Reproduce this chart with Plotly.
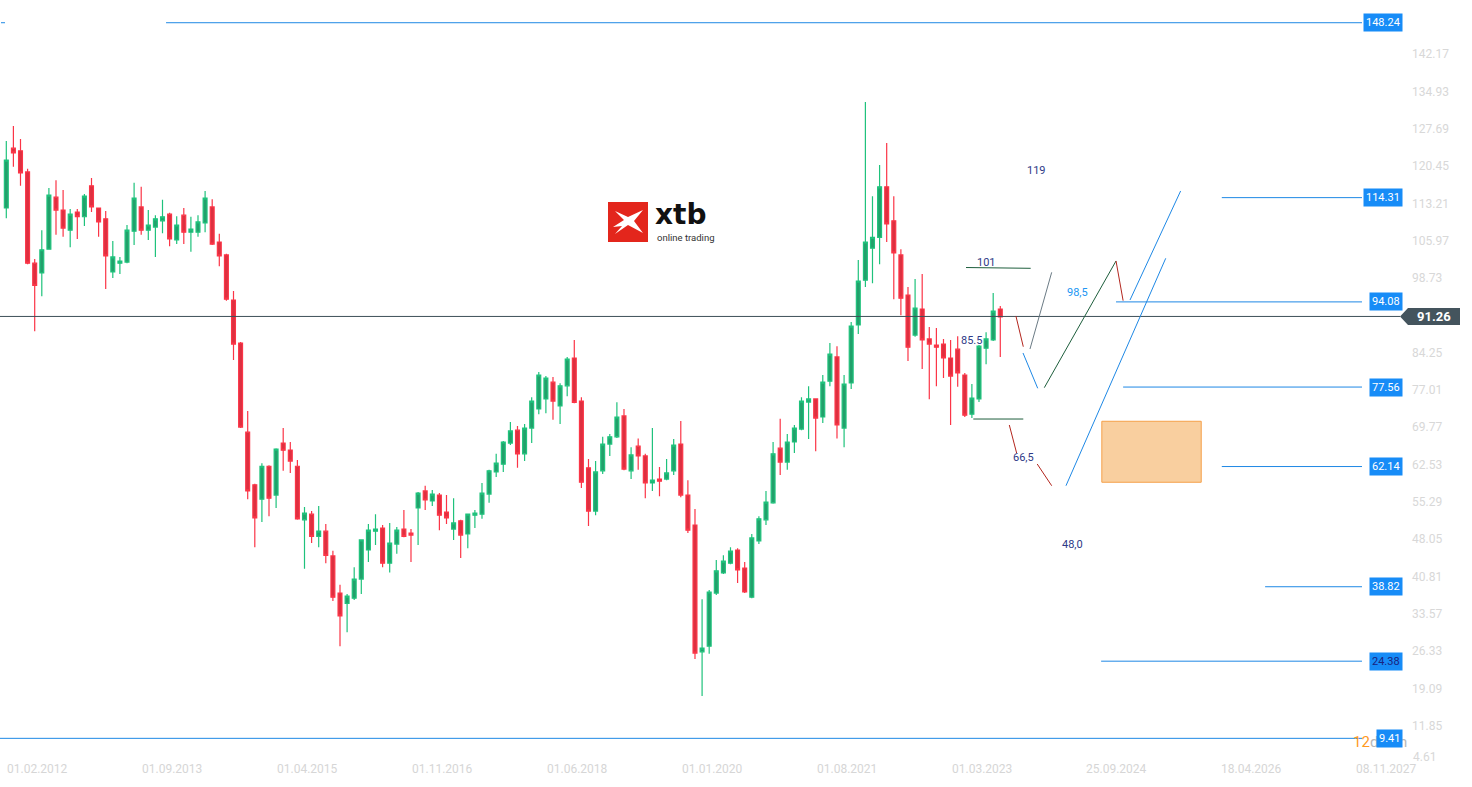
import plotly.graph_objects as go
import pandas as pd

# ---------------- data ----------------
months = pd.date_range("2012-02-01", periods=141, freq="MS").strftime("%d.%m.%Y").tolist()

opens = [112.3, 123.9, 123.4, 119.3, 101.6, 99.7, 104.3, 114.4, 111.9, 108.0,
         111.5, 110.6, 116.6, 112.3, 110.2, 99.9, 101.6, 101.8, 107.8, 112.5,
         108.0, 108.6, 109.8, 111.1, 106.1, 110.9, 107.6, 107.6, 109.4, 112.5,
         105.7, 103.2, 94.45, 86.1, 68.8, 58.6, 55.8, 62.2, 56.6, 66.7,
         65.35, 62.2, 51.8, 52.9, 48.6, 49.6, 44.8, 37.6, 35.6, 36.6,
         40.3, 45.95, 49.6, 50.2, 43.4, 47.1, 50.0, 49.25, 54.1, 57.4,
         55.45, 56.6, 53.3, 50.0, 51.6, 49.05, 52.7, 52.9, 56.8, 61.1,
         62.6, 66.7, 69.2, 64.6, 69.6, 73.3, 75.25, 78.5, 73.9, 77.8,
         83.2, 74.85, 61.9, 53.5, 61.3, 66.5, 67.9, 71.95, 61.3, 66.1,
         64.2, 58.95, 59.7, 59.7, 61.3, 66.5, 56.6, 50.8, 26.2, 27.3,
         37.6, 41.5, 43.4, 45.95, 42.45, 36.8, 47.7, 51.8, 55.1, 65.7,
         63.0, 66.9, 69.4, 74.65, 75.25, 71.75, 78.7, 83.4, 69.6, 78.35,
         89.6, 98.3, 104.5, 106.6, 116.4, 109.8, 103.2, 95.4, 87.65, 92.7,
         86.9, 85.7, 85.9, 83.2, 84.9, 79.9, 72.3, 75.25, 85.1, 86.7,
         92.7]
highs = [125.3, 128.2, 125.7, 119.9, 102.4, 108.0, 116.2, 117.7, 115.8, 112.1,
         112.1, 115.0, 118.1, 112.3, 111.7, 105.9, 102.8, 109.0, 117.2, 116.4,
         111.9, 110.9, 113.9, 111.4, 110.7, 112.3, 110.6, 110.9, 115.6, 114.0,
         107.3, 103.4, 96.2, 86.3, 72.9, 58.8, 62.8, 62.4, 65.7, 69.6,
         66.9, 63.4, 54.3, 53.5, 54.5, 51.0, 45.8, 39.2, 37.4, 42.6,
         48.0, 51.0, 52.9, 50.8, 51.2, 50.4, 53.7, 50.0, 57.2, 58.4,
         57.6, 57.0, 56.6, 56.0, 51.8, 53.0, 53.7, 58.95, 61.5, 64.6,
         67.1, 70.8, 70.0, 70.4, 75.6, 80.5, 79.7, 79.5, 78.3, 83.4,
         86.7, 75.6, 63.6, 63.2, 67.9, 68.45, 74.6, 73.3, 65.9, 67.6,
         64.6, 69.6, 62.05, 63.6, 67.5, 70.97, 59.5, 53.9, 36.4, 38.2,
         44.0, 44.95, 46.5, 46.3, 43.6, 49.05, 52.5, 57.4, 66.9, 71.4,
         68.45, 70.2, 75.6, 77.7, 75.4, 79.9, 86.1, 85.5, 79.9, 90.2,
         102.2, 132.85, 114.6, 120.65, 124.9, 114.6, 104.3, 96.97, 98.5, 99.5,
         89.2, 89.0, 86.9, 86.7, 87.4, 80.3, 78.15, 85.7, 88.2, 95.8,
         93.3]
lows = [110.3, 120.3, 116.6, 101.4, 88.4, 95.2, 104.2, 107.1, 106.7, 104.7,
        106.3, 108.8, 111.5, 106.7, 96.6, 98.7, 99.5, 101.6, 105.1, 107.1,
        106.1, 102.8, 107.4, 104.9, 105.3, 105.3, 103.8, 106.7, 107.6, 105.1,
        101.0, 94.3, 82.8, 69.6, 55.8, 46.5, 51.4, 52.5, 54.1, 61.3,
        60.9, 51.8, 42.3, 47.3, 46.5, 43.4, 36.05, 27.3, 30.0, 36.25,
        37.4, 43.6, 46.9, 42.6, 41.6, 45.2, 48.4, 43.6, 46.9, 53.7,
        54.5, 49.8, 51.0, 47.9, 44.4, 46.3, 50.2, 52.0, 55.1, 60.1,
        61.1, 66.3, 61.9, 63.2, 66.7, 72.3, 72.5, 71.2, 70.4, 75.8,
        74.4, 57.98, 50.6, 52.7, 60.7, 64.2, 67.7, 61.4, 59.7, 61.5,
        56.0, 57.4, 56.4, 59.5, 60.5, 56.2, 49.25, 24.8, 17.6, 25.8,
        37.2, 41.3, 43.2, 39.55, 37.6, 36.6, 47.1, 50.8, 54.9, 60.5,
        61.5, 64.75, 69.2, 67.5, 65.1, 70.6, 77.7, 67.6, 65.9, 77.2,
        87.85, 96.97, 97.7, 101.4, 105.7, 94.6, 91.5, 82.6, 87.3, 81.05,
        75.2, 77.7, 79.3, 70.2, 77.6, 71.75, 71.55, 74.65, 82.0, 86.5,
        83.4]
closes = [121.6, 123.0, 119.1, 101.6, 97.3, 104.2, 114.8, 111.9, 108.4, 111.1,
          110.6, 114.6, 112.5, 109.6, 103.0, 102.8, 102.0, 108.0, 114.2, 108.0,
          109.0, 110.2, 110.6, 106.3, 109.0, 107.6, 108.2, 109.6, 114.2, 105.3,
          103.0, 94.6, 85.9, 69.8, 57.4, 52.2, 62.2, 56.0, 65.5, 65.3,
          63.2, 52.0, 53.1, 48.6, 49.6, 44.9, 36.8, 33.15, 37.0, 40.3,
          47.9, 49.8, 50.0, 43.4, 47.3, 49.8, 48.6, 48.85, 57.0, 55.65,
          56.8, 52.7, 52.2, 51.2, 48.85, 52.9, 53.1, 57.0, 61.3, 62.8,
          66.9, 69.05, 64.6, 69.6, 74.85, 79.9, 79.3, 74.85, 77.8, 83.0,
          74.6, 59.1, 53.5, 61.1, 66.5, 67.9, 71.75, 61.65, 64.4, 64.2,
          58.95, 59.5, 59.3, 60.9, 66.3, 56.6, 49.8, 25.95, 26.9, 37.8,
          41.9, 43.8, 45.75, 42.1, 37.8, 48.3, 52.0, 55.25, 64.6, 63.0,
          66.9, 69.6, 74.85, 75.25, 71.55, 78.5, 83.95, 70.2, 78.15, 89.4,
          98.1, 105.7, 106.6, 116.4, 109.2, 103.6, 94.8, 85.3, 92.9, 86.7,
          85.9, 85.3, 83.2, 79.7, 80.3, 72.1, 75.4, 85.5, 86.9, 92.3,
          91.15]

x_tick_labels = ["01.02.2012", "01.09.2013", "01.04.2015", "01.11.2016", "01.06.2018",
                 "01.01.2020", "01.08.2021", "01.03.2023", "25.09.2024", "18.04.2026",
                 "08.11.2027"]
months_per_label = 19

y_tick_values = [142.17, 134.93, 127.69, 120.45, 113.21, 105.97, 98.73, 84.25, 77.01,
                 69.77, 62.53, 55.29, 48.05, 40.81, 33.57, 26.33, 19.09, 11.85]
y_bottom_tick = 4.61

current_price = 91.26

# horizontal price levels (value, month index where the line starts)
level_values = [148.24, 114.31, 94.08, 77.56, 62.14, 38.82, 24.38, 9.41]
level_starts = [22.5, 171.2, 156.3, 157.3, 171.2, 177.3, 154.2, -0.9]

# scenario drawings: (month index, price) pairs
scenario_segments = [
    ([142.2, 143.24], [91.35, 85.39], "#b3261e"),
    ([144.18, 147.24], [84.94, 99.82], "#6b7b85"),
    ([143.2, 145.27], [84.17, 77.32], "#1e88e5"),
    ([146.2, 156.3], [77.44, 102.02], "#1d5e3c"),
    ([156.3, 157.3], [102.02, 94.32], "#b3261e"),
    ([158.27, 165.4], [94.45, 115.6], "#1e88e5"),
    ([149.25, 163.3], [58.42, 102.54], "#1e88e5"),
    ([141.27, 142.31], [70.2, 64.71], "#b3261e"),
    ([145.2, 147.24], [62.63, 58.42], "#b3261e"),
    ([135.17, 144.28], [100.75, 100.6], "#1d5e3c"),
    ([136.2, 143.24], [71.36, 71.36], "#1d5e3c"),
]
zone_x = [154.3, 168.3]
zone_y = [59.09, 70.92]

target_texts = ["119", "101", "98,5", "85.5", "66,5", "48,0"]
target_x = [145.16, 138.0, 150.94, 136.0, 143.2, 150.1]
target_y = [119.67, 101.8, 95.81, 86.69, 63.99, 47.11]
target_colors = ["#2e3a87", "#2e3a87", "#2196f3", "#2e3a87", "#2e3a87", "#2e3a87"]

# ---------------- layout constants ----------------
W, H = 1472, 787
PLOT_W = 1403
X_RANGE = [-0.887, 196.72]
Y_RANGE = [-0.03, 152.65]
BLUE = "#1e88e5"
BOX_BLUE = "#178cf7"
TICK_GRAY = "#d8d8d8"
x_pos = list(range(len(months)))


def px(xp):
    return xp / PLOT_W


def py(yp):
    return 1 - yp / H


fig = go.Figure()
fig.add_trace(go.Candlestick(
    x=x_pos, open=opens, high=highs, low=lows, close=closes,
    increasing=dict(line=dict(color="#1fc27c", width=1.2), fillcolor="#22a06b"),
    decreasing=dict(line=dict(color="#fb3547", width=1.2), fillcolor="#dd3040"),
    whiskerwidth=0, hoverinfo="skip", showlegend=False,
))

shapes = []
annotations = []

# price levels
end_idx = (1362 - 6.3) / 7.1
for v, s in zip(level_values, level_starts):
    shapes.append(dict(type="line", xref="x", yref="y", x0=s, x1=end_idx, y0=v, y1=v,
                       line=dict(color=BLUE, width=1)))
shapes.append(dict(type="line", xref="paper", yref="y", x0=px(1), x1=px(5),
                   y0=level_values[0], y1=level_values[0], line=dict(color=BLUE, width=1)))

# current price line
shapes.append(dict(type="line", xref="paper", yref="y", x0=0, x1=px(1400),
                   y0=current_price, y1=current_price, line=dict(color="#3d4f58", width=1)))

# scenario lines
for xs, ys, col in scenario_segments:
    shapes.append(dict(type="line", xref="x", yref="y", x0=xs[0], x1=xs[1], y0=ys[0], y1=ys[1],
                       line=dict(color=col, width=1)))

# orange zone
shapes.append(dict(type="rect", xref="x", yref="y", x0=zone_x[0], x1=zone_x[1],
                   y0=zone_y[0], y1=zone_y[1], fillcolor="#f9cf9f",
                   line=dict(color="#f5a04a", width=1), layer="above"))

# current price tag (arrow box)
dy = 1.65
path = (f"M {px(1400)},{current_price} L {px(1408)},{current_price + dy} "
        f"L {px(1460)},{current_price + dy} L {px(1460)},{current_price - dy} "
        f"L {px(1408)},{current_price - dy} Z")
shapes.append(dict(type="path", xref="paper", yref="y", path=path,
                   fillcolor="#44545d", line=dict(width=0), layer="above"))

# logo
shapes.append(dict(type="rect", xref="paper", yref="paper", x0=px(608), x1=px(648),
                   y0=py(242), y1=py(202), fillcolor="#e3261c", line=dict(width=0), layer="above"))
pts = [(613, 227), (624, 220), (615, 211), (628, 217), (643, 210), (634, 221),
       (643, 233), (628, 225), (615, 234), (622, 226)]
lp = "M " + " L ".join(f"{px(a)},{py(b)}" for a, b in pts) + " Z"
shapes.append(dict(type="path", xref="paper", yref="paper", path=lp,
                   fillcolor="white", line=dict(width=0), layer="above"))
annotations.append(dict(text="<b>xtb</b>", xref="paper", yref="paper", x=px(653), y=py(214),
                        xanchor="left", yanchor="middle", showarrow=False,
                        font=dict(family="DejaVu Sans", size=28, color="#111111")))
annotations.append(dict(text="online trading", xref="paper", yref="paper", x=px(655), y=py(237),
                        xanchor="left", yanchor="middle", showarrow=False,
                        font=dict(family="Roboto", size=9.5, color="#333333")))

# scenario texts
for t, xx, yy, c in zip(target_texts, target_x, target_y, target_colors):
    annotations.append(dict(text=t, x=xx, y=yy, xref="x", yref="y", showarrow=False,
                            xanchor="center", yanchor="middle",
                            font=dict(family="Roboto", size=11, color=c)))

# x tick labels
for i, lab in enumerate(x_tick_labels):
    annotations.append(dict(text=lab, x=i * months_per_label, xref="x", y=py(769), yref="paper",
                            xanchor="left", yanchor="middle", xshift=-1, showarrow=False,
                            font=dict(family="Roboto", size=12, color="#d6d6d6")))

# bottom price tick, lifted to stay clear of the date labels
annotations.append(dict(text=f"{y_bottom_tick:.2f}", xref="paper", yref="y", x=px(1411),
                        y=y_bottom_tick, yshift=6, xanchor="left", yanchor="middle",
                        showarrow=False, font=dict(family="Roboto", size=12, color=TICK_GRAY)))

# countdown text (partly hidden by last box)
annotations.append(dict(
    text="<span style='color:#ff9a1f'>12</span><span style='color:#b8b8b8'>d</span> "
         "<span style='color:#ff9a1f'>06</span><span style='color:#b8b8b8'>h</span>",
    xref="paper", yref="paper", x=px(1351), y=py(742), xanchor="left", yanchor="middle",
    showarrow=False, font=dict(family="Roboto", size=15)))

# level tags
for v in level_values:
    tcol = "#1a237e" if v == 24.38 else "white"
    annotations.append(dict(text=f"{v:.2f}", xref="paper", yref="y", x=px(1403), y=v,
                            xanchor="right", yanchor="middle", showarrow=False,
                            bgcolor=BOX_BLUE, borderpad=2,
                            font=dict(family="Roboto", size=11, color=tcol)))

# current price text
annotations.append(dict(text=f"<b>{current_price:.2f}</b>", xref="paper", yref="y",
                        x=px(1434), y=current_price, xanchor="center", yanchor="middle",
                        showarrow=False, font=dict(family="Roboto", size=13, color="white")))

fig.update_layout(
    width=W, height=H, autosize=False,
    margin=dict(l=0, r=W - PLOT_W, t=0, b=0),
    paper_bgcolor="white", plot_bgcolor="white",
    boxgap=0.22,
    shapes=shapes, annotations=annotations,
    xaxis=dict(range=X_RANGE, showgrid=False, zeroline=False, showticklabels=False,
               rangeslider=dict(visible=False), fixedrange=True),
    yaxis=dict(range=Y_RANGE, side="right", showgrid=False, zeroline=False,
               tickvals=y_tick_values, ticktext=[f"{v:.2f}" for v in y_tick_values],
               ticks="", ticklabelstandoff=8,
               tickfont=dict(family="Roboto", size=12, color=TICK_GRAY), fixedrange=True),
    showlegend=False,
)

fig.write_html("out.html", config=dict(displayModeBar=False),
               post_script="document.body.style.margin='0';document.body.style.overflow='hidden';")
